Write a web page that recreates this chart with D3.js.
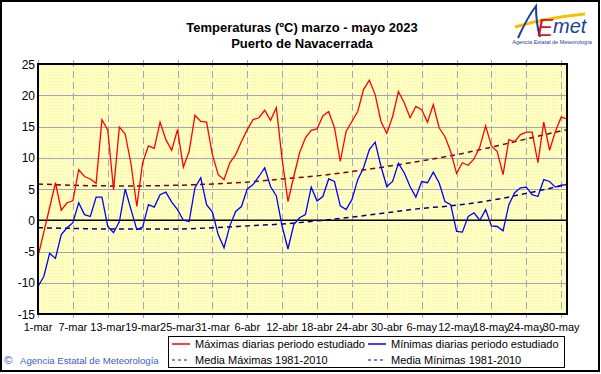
<!DOCTYPE html>
<html>
<head>
<meta charset="utf-8">
<script src="https://cdn.jsdelivr.net/npm/d3@7"></script>
<style>
  body { margin: 0; background: #fff; }
  svg { display: block; font-family: Arial, "Liberation Sans", sans-serif; }
</style>
</head>
<body>
<svg id="chart" width="601" height="374"></svg>
<script>
// daily values, 1 March .. 31 May 2023
var tmax = [-5.8, -1.9, 2.0, 6.0, 1.6, 2.8, 3.1, 8.1, 7.0, 6.6,
            5.9, 16.1, 14.4, 4.9, 14.9, 13.8, 9.0, 2.2, 9.2, 11.9,
            11.5, 15.7, 12.9, 11.2, 14.5, 8.5, 11.0, 16.8, 15.8, 15.7,
            10.5, 7.3, 6.5, 9.2, 10.5, 12.6, 14.5, 16.1, 16.4, 17.6,
            16.0, 18.0, 9.7, 3.0, 7.0, 10.8, 13.2, 14.4, 14.6, 16.7,
            17.4, 14.8, 9.4, 14.2, 15.8, 17.4, 20.9, 22.4, 20.1, 15.8,
            13.9, 16.6, 20.6, 18.8, 16.4, 18.2, 17.7, 15.7, 18.5, 14.8,
            13.4, 11.0, 7.5, 9.2, 8.8, 9.8, 11.7, 15.1, 11.9, 11.0,
            7.3, 12.9, 12.6, 13.7, 14.1, 14.1, 9.2, 15.7, 11.2, 14.2,
            16.5, 16.2];
var tmin = [-10.6, -9.0, -5.3, -6.1, -2.3, -1.2, -0.4, 2.8, 0.9, 0.6,
            3.7, 3.7, -1.0, -2.0, -0.2, 5.0, 1.7, -1.5, -1.1, 2.5,
            2.1, 4.1, 4.5, 2.9, 1.7, 0.0, -0.2, 5.2, 6.8, 2.5,
            1.3, -2.3, -4.4, -0.9, 1.4, 2.2, 5.0, 5.7, 7.0, 8.4,
            5.4, 3.9, -1.0, -4.6, -0.7, 0.4, 0.9, 5.3, 3.1, 3.8,
            6.6, 6.2, 2.3, 1.7, 3.3, 6.5, 8.4, 11.3, 12.5, 8.6,
            5.4, 6.2, 9.1, 7.6, 5.4, 3.7, 6.2, 6.0, 7.7, 6.0,
            3.0, 2.5, -1.8, -1.9, 0.6, 1.2, 0.0, 1.7, -0.9, -1.0,
            -1.7, 2.5, 4.4, 5.2, 5.3, 4.1, 3.8, 6.5, 6.2, 5.3,
            5.6, 5.7];

// 1981-2010 means, read at the tick dates (day number from 1 March)
var meanDays = [0, 6, 12, 18, 24, 30, 36, 42, 48, 54, 60, 66, 72, 78, 84, 90, 91];
var meanMax = [5.8, 5.6, 5.5, 5.5, 5.6, 5.8, 6.1, 6.6, 7.1, 7.8, 8.6, 9.5, 10.5, 11.7, 13.0, 14.3, 14.5];
var meanMin = [-1.2, -1.3, -1.4, -1.4, -1.4, -1.2, -0.9, -0.6, -0.1, 0.5, 1.2, 1.9, 2.4, 3.2, 4.3, 5.5, 5.7];

var tickDays = [0, 6, 12, 18, 24, 30, 36, 42, 48, 54, 60, 66, 72, 78, 84, 90];
var tickLabels = ["1-mar", "7-mar", "13-mar", "19-mar", "25-mar", "31-mar", "6-abr", "12-abr",
                  "18-abr", "24-abr", "30-abr", "6-may", "12-may", "18-may", "24-may", "30-may"];
var yTicks = [-15, -10, -5, 0, 5, 10, 15, 20, 25];

var legendItems = [
    { label: "Máximas diarias periodo estudiado", color: "#ff0000", dash: null },
    { label: "Mínimas diarias periodo estudiado", color: "#0000ff", dash: null },
    { label: "Media Máximas 1981-2010", color: "#800000", dash: "3,3" },
    { label: "Media Mínimas 1981-2010", color: "#000080", dash: "3,3" }
];

function dayDate(i) { return new Date(Date.UTC(2023, 2, 1 + i)); }

var svg = d3.select("#chart");
var pLeft = 38, pRight = 567, pTop = 64, pBottom = 314;

var x = d3.scaleUtc().domain([dayDate(0), dayDate(91)]).range([pLeft, pRight]);
var y = d3.scaleLinear().domain([-15, 25]).range([pBottom, pTop]);

// outer frame
svg.append("rect").attr("x", 1).attr("y", 1).attr("width", 598).attr("height", 370)
    .attr("fill", "#fff").attr("stroke", "#000").attr("stroke-width", 2);

// plot background with a light dither
var defs = svg.append("defs");
var pat = defs.append("pattern").attr("id", "dots").attr("width", 3).attr("height", 3)
    .attr("patternUnits", "userSpaceOnUse");
pat.append("rect").attr("width", 3).attr("height", 3).attr("fill", "#ffffc2");
pat.append("rect").attr("width", 1).attr("height", 1).attr("fill", "#f6f0a8");
defs.append("clipPath").attr("id", "clip").append("rect")
    .attr("x", pLeft).attr("y", pTop).attr("width", pRight - pLeft).attr("height", pBottom - pTop);

svg.append("rect").attr("x", pLeft).attr("y", pTop).attr("width", pRight - pLeft).attr("height", pBottom - pTop)
    .attr("fill", "url(#dots)");

// grid
svg.append("g").selectAll("line").data(yTicks).enter().append("line")
    .attr("x1", pLeft).attr("x2", pRight)
    .attr("y1", d => Math.round(y(d)) + 0.5).attr("y2", d => Math.round(y(d)) + 0.5)
    .attr("stroke", "#a4a4b8").attr("stroke-width", 1);
svg.append("g").selectAll("line").data(tickDays).enter().append("line")
    .attr("x1", d => Math.round(x(dayDate(d))) + 0.5).attr("x2", d => Math.round(x(dayDate(d))) + 0.5)
    .attr("y1", pTop - 4).attr("y2", pBottom + 4)
    .attr("stroke", "#a4a4b8").attr("stroke-width", 1).attr("stroke-dasharray", "7,4");

// zero line
svg.append("line").attr("x1", pLeft).attr("x2", pRight).attr("y1", y(0)).attr("y2", y(0))
    .attr("stroke", "#000").attr("stroke-width", 1.5);

var plot = svg.append("g").attr("clip-path", "url(#clip)");

var meanLine = d3.line().x(function(d, i) { return x(dayDate(meanDays[i])); }).y(d => y(d))
    .curve(d3.curveMonotoneX);
plot.append("path").attr("d", meanLine(meanMax)).attr("fill", "none")
    .attr("stroke", "#800000").attr("stroke-width", 1.5).attr("stroke-dasharray", "5,4");
plot.append("path").attr("d", meanLine(meanMin)).attr("fill", "none")
    .attr("stroke", "#000080").attr("stroke-width", 1.5).attr("stroke-dasharray", "5,4");

var dayLine = d3.line().x(function(d, i) { return x(dayDate(i)); }).y(d => y(d));
plot.append("path").attr("d", dayLine(tmax)).attr("fill", "none")
    .attr("stroke", "#ff0000").attr("stroke-width", 1.3);
plot.append("path").attr("d", dayLine(tmin)).attr("fill", "none")
    .attr("stroke", "#0000ff").attr("stroke-width", 1.3);

// plot border
svg.append("rect").attr("x", pLeft).attr("y", pTop).attr("width", pRight - pLeft).attr("height", pBottom - pTop)
    .attr("fill", "none").attr("stroke", "#000").attr("stroke-width", 2);

// y axis labels
svg.append("g").selectAll("text").data(yTicks).enter().append("text")
    .attr("x", 35).attr("y", d => y(d) + 4.5)
    .attr("text-anchor", "end").attr("font-size", 12).text(d => d);

// x axis labels
svg.append("g").selectAll("text").data(tickDays).enter().append("text")
    .attr("x", d => x(dayDate(d))).attr("y", 331)
    .attr("text-anchor", "middle").attr("font-size", 11)
    .text(function(d, i) { return tickLabels[i]; });

// title
svg.append("text").attr("x", 302).attr("y", 32).attr("text-anchor", "middle")
    .attr("font-size", 13).attr("font-weight", "bold").text("Temperaturas (ºC) marzo - mayo 2023");
svg.append("text").attr("x", 302).attr("y", 48).attr("text-anchor", "middle")
    .attr("font-size", 13).attr("font-weight", "bold").text("Puerto de Navacerrada");

// legend
svg.append("rect").attr("x", 168.5).attr("y", 336.5).attr("width", 396).attr("height", 31)
    .attr("fill", "#fff").attr("stroke", "#000").attr("stroke-width", 1);
var leg = svg.append("g").selectAll("g").data(legendItems).enter().append("g")
    .attr("transform", function(d, i) {
        return "translate(" + (i % 2 === 0 ? 172 : 368) + "," + (i < 2 ? 344 : 360) + ")";
    });
leg.append("line").attr("x1", 0).attr("x2", 18).attr("y1", 0).attr("y2", 0)
    .attr("stroke", d => d.color).attr("stroke-width", d => d.dash ? 1 : 1.5)
    .attr("stroke-dasharray", d => d.dash);
leg.append("text").attr("x", 23).attr("y", 4).attr("font-size", 11).text(d => d.label);

// copyright
svg.append("text").attr("x", 4).attr("y", 364).attr("font-size", 11.5).attr("fill", "#3a62c0").text("©");
svg.append("text").attr("x", 20).attr("y", 364).attr("font-size", 9.6).attr("fill", "#3a62c0")
    .text("Agencia Estatal de Meteorología");

// logo
var logo = svg.append("g");
logo.append("path").attr("d", "M515,27 Q545,18 585,14").attr("fill", "none")
    .attr("stroke", "#f2c200").attr("stroke-width", 3);
logo.append("path").attr("d", "M518,38 C523,27 529,15 536,6 C536,16 537,27 540,37")
    .attr("fill", "none").attr("stroke", "#1c3f94").attr("stroke-width", 2);
logo.append("text").attr("x", 537).attr("y", 36).attr("font-size", 24).attr("font-style", "italic")
    .attr("fill", "#d4161c").text("E");
logo.append("text").attr("x", 553).attr("y", 33).attr("font-size", 20).attr("font-style", "italic")
    .attr("fill", "#1c3f94").text("met");
logo.append("text").attr("x", 552).attr("y", 44).attr("text-anchor", "middle").attr("font-size", 5.5)
    .attr("fill", "#1c3f94").text("Agencia Estatal de Meteorología");
</script>
</body>
</html>
